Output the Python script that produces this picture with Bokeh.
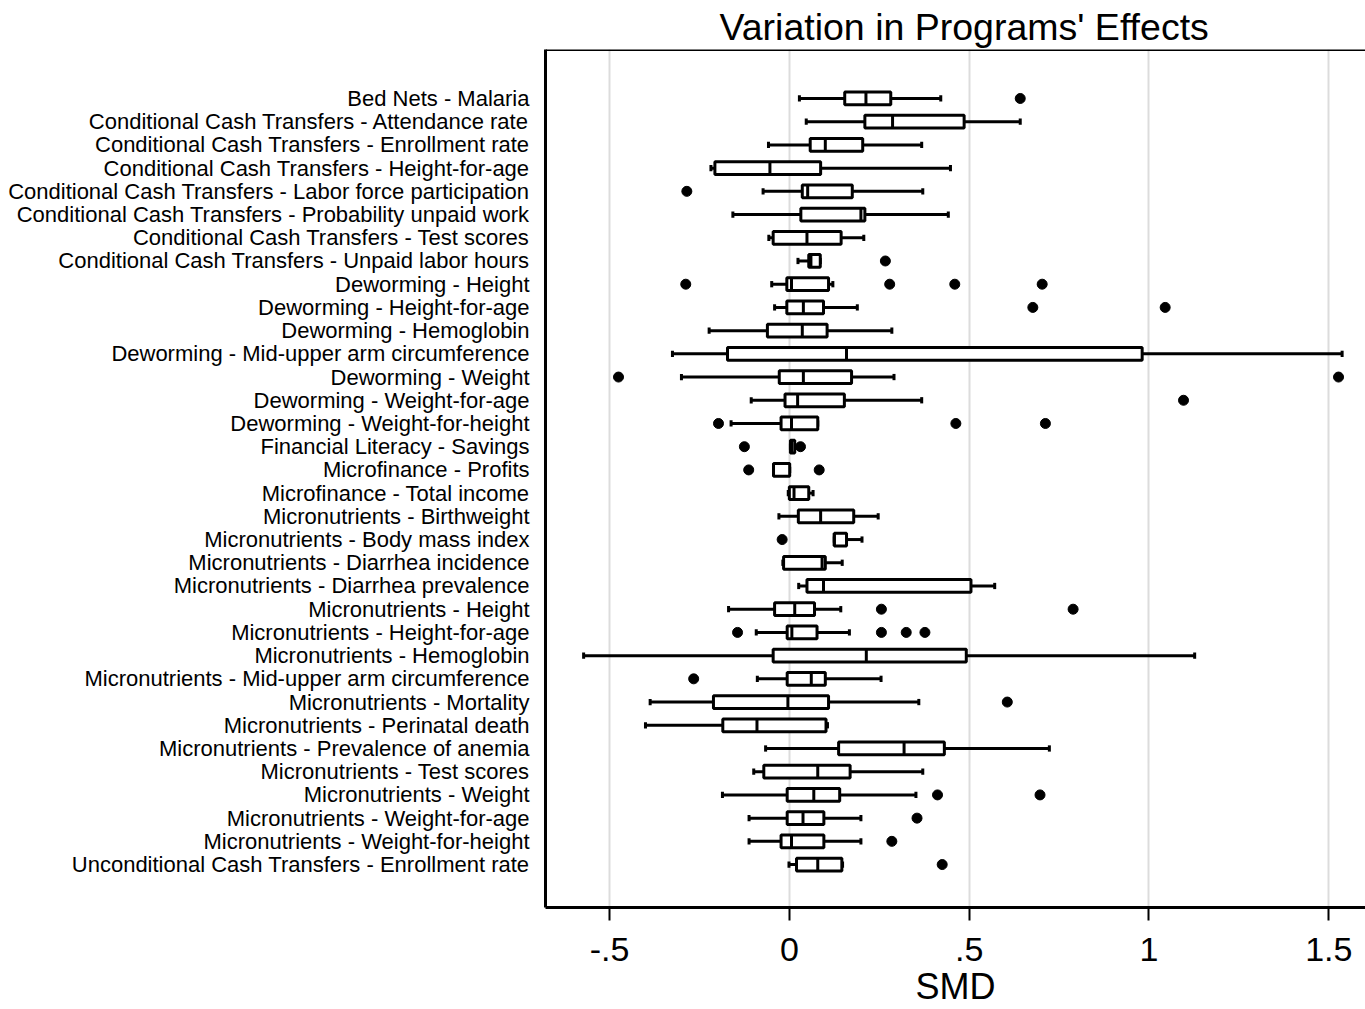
from bokeh.plotting import figure
from bokeh.models import Range1d, FixedTicker, Span, Title, ColumnDataSource
from bokeh.embed import file_html
from bokeh.resources import INLINE

labels = [
    "Bed Nets - Malaria",
    "Conditional Cash Transfers - Attendance rate",
    "Conditional Cash Transfers - Enrollment rate",
    "Conditional Cash Transfers - Height-for-age",
    "Conditional Cash Transfers - Labor force participation",
    "Conditional Cash Transfers - Probability unpaid work",
    "Conditional Cash Transfers - Test scores",
    "Conditional Cash Transfers - Unpaid labor hours",
    "Deworming - Height",
    "Deworming - Height-for-age",
    "Deworming - Hemoglobin",
    "Deworming - Mid-upper arm circumference",
    "Deworming - Weight",
    "Deworming - Weight-for-age",
    "Deworming - Weight-for-height",
    "Financial Literacy - Savings",
    "Microfinance - Profits",
    "Microfinance - Total income",
    "Micronutrients - Birthweight",
    "Micronutrients - Body mass index",
    "Micronutrients - Diarrhea incidence",
    "Micronutrients - Diarrhea prevalence",
    "Micronutrients - Height",
    "Micronutrients - Height-for-age",
    "Micronutrients - Hemoglobin",
    "Micronutrients - Mid-upper arm circumference",
    "Micronutrients - Mortality",
    "Micronutrients - Perinatal death",
    "Micronutrients - Prevalence of anemia",
    "Micronutrients - Test scores",
    "Micronutrients - Weight",
    "Micronutrients - Weight-for-age",
    "Micronutrients - Weight-for-height",
    "Unconditional Cash Transfers - Enrollment rate",
]

whisker_lo = [0.028, 0.047, -0.058, -0.218, -0.073, -0.157, -0.057, 0.024, -0.049, -0.041,
              -0.223, -0.325, -0.300, -0.106, -0.162, 0.003, -0.044, -0.003, -0.029, 0.125,
              -0.018, 0.026, -0.169, -0.092, -0.572, -0.089, -0.387, -0.400, -0.066, -0.099,
              -0.186, -0.112, -0.112, -0.001]
q1 = [0.154, 0.210, 0.058, -0.207, 0.036, 0.032, -0.045, 0.054, -0.007, -0.007,
      -0.061, -0.172, -0.028, -0.012, -0.023, 0.003, -0.044, 0.000, 0.025, 0.125,
      -0.016, 0.049, -0.041, -0.006, -0.045, -0.006, -0.211, -0.185, 0.137, -0.071,
      -0.006, -0.006, -0.023, 0.020]
median = [0.213, 0.287, 0.100, -0.054, 0.051, 0.199, 0.049, 0.060, 0.006, 0.039,
          0.036, 0.159, 0.039, 0.023, 0.006, 0.006, -0.044, 0.013, 0.087, 0.125,
          0.091, 0.095, 0.015, 0.007, 0.214, 0.061, -0.004, -0.090, 0.319, 0.079,
          0.068, 0.038, 0.006, 0.079]
q3 = [0.282, 0.486, 0.204, 0.087, 0.175, 0.210, 0.144, 0.086, 0.109, 0.095,
      0.105, 0.981, 0.173, 0.153, 0.079, 0.015, 0.001, 0.054, 0.179, 0.159,
      0.100, 0.505, 0.070, 0.077, 0.492, 0.100, 0.109, 0.102, 0.431, 0.169,
      0.140, 0.096, 0.096, 0.146]
whisker_hi = [0.421, 0.642, 0.368, 0.448, 0.371, 0.442, 0.207, 0.086, 0.121, 0.189,
              0.285, 1.537, 0.291, 0.368, 0.079, 0.015, 0.001, 0.066, 0.247, 0.202,
              0.147, 0.571, 0.143, 0.167, 1.127, 0.255, 0.360, 0.106, 0.723, 0.371,
              0.352, 0.199, 0.199, 0.148]

outlier_row = [0, 4, 7, 8, 8, 8, 8, 9, 9, 12, 12, 13, 14, 14, 14, 15, 15, 16, 16, 19,
               22, 22, 23, 23, 23, 23, 25, 26, 30, 30, 31, 32, 33]
outlier_val = [0.642, -0.285, 0.267, -0.288, 0.279, 0.460, 0.703, 0.677, 1.045, -0.475, 1.527,
               1.096, -0.197, 0.463, 0.712, -0.125, 0.031, -0.113, 0.083, -0.020,
               0.256, 0.789, -0.144, 0.256, 0.325, 0.377, -0.266, 0.606, 0.412, 0.697,
               0.355, 0.285, 0.425]

x_ticks = [-0.5, 0, 0.5, 1, 1.5]
x_tick_labels = ["-.5", "0", ".5", "1", "1.5"]

FONT = "Liberation Sans"
n = len(labels)
rows = list(range(n))
BOX_H = 0.55
CAP_H = 0.27
LW = 3

src = ColumnDataSource(dict(
    y=rows, lo=whisker_lo, q1=q1, med=median, q3=q3, hi=whisker_hi,
    b0=[r - BOX_H / 2 for r in rows], b1=[r + BOX_H / 2 for r in rows],
    c0=[r - CAP_H / 2 for r in rows], c1=[r + CAP_H / 2 for r in rows],
))

p = figure(width=1365, height=1009, output_backend="svg", toolbar_location=None,
           x_range=Range1d(-0.678, 1.602), y_range=Range1d(34.85, -2.11),
           min_border_left=545, min_border_right=0, min_border_top=49,
           min_border_bottom=101)
p.title = None
t = Title(text="Variation in Programs' Effects", align="left",
          text_font=FONT, text_font_size="37.5px", text_font_style="normal",
          text_color="black", offset=174, standoff=4)
p.add_layout(t, "above")

p.outline_line_color = None
p.background_fill_color = "white"
p.border_fill_color = "white"

# grid
p.ygrid.grid_line_color = None
p.xgrid.grid_line_color = "#dcdcdc"
p.xgrid.grid_line_width = 2
p.xaxis.ticker = FixedTicker(ticks=x_ticks)
p.xaxis.major_label_overrides = {k: v for k, v in zip(x_ticks, x_tick_labels)}
p.xaxis.axis_label = "SMD"
p.xaxis.axis_label_text_font = FONT
p.xaxis.axis_label_text_font_size = "36px"
p.xaxis.axis_label_text_font_style = "normal"
p.xaxis.axis_label_text_color = "black"
p.xaxis.axis_label_standoff = 2
p.xaxis.major_label_text_font = FONT
p.xaxis.major_label_text_font_size = "34px"
p.xaxis.major_label_text_color = "black"
p.xaxis.major_label_standoff = 17
p.xaxis.axis_line_width = 3
p.xaxis.axis_line_color = "black"
p.xaxis.major_tick_line_width = 2
p.xaxis.major_tick_line_color = "black"
p.xaxis.major_tick_out = 13
p.xaxis.major_tick_in = 0
p.xaxis.minor_tick_line_color = None

p.yaxis.ticker = FixedTicker(ticks=rows)
p.yaxis.major_label_overrides = {i: lab for i, lab in enumerate(labels)}
p.yaxis.major_label_text_font = FONT
p.yaxis.major_label_text_font_size = "22px"
p.yaxis.major_label_text_color = "black"
p.yaxis.major_label_standoff = 10
p.yaxis.major_tick_line_color = None
p.yaxis.minor_tick_line_color = None
p.yaxis.axis_line_width = 3
p.yaxis.axis_line_color = "black"

top = Span(location=-2.11, dimension="width", line_color="black", line_width=3)
p.add_layout(top)

# whiskers
p.segment(x0="lo", y0="y", x1="hi", y1="y", source=src, line_color="black", line_width=LW)
p.segment(x0="lo", y0="c0", x1="lo", y1="c1", source=src, line_color="black", line_width=LW)
p.segment(x0="hi", y0="c0", x1="hi", y1="c1", source=src, line_color="black", line_width=LW)
# boxes
p.hbar(y="y", left="q1", right="q3", height=BOX_H, source=src, fill_color="white",
       line_color="black", line_width=LW)
# medians
p.segment(x0="med", y0="b0", x1="med", y1="b1", source=src, line_color="black", line_width=LW)
# outliers
p.scatter(x=outlier_val, y=outlier_row, size=10, marker="circle", fill_color="black",
          line_color="black")

open("out.html", "w").write(file_html(p, INLINE))
